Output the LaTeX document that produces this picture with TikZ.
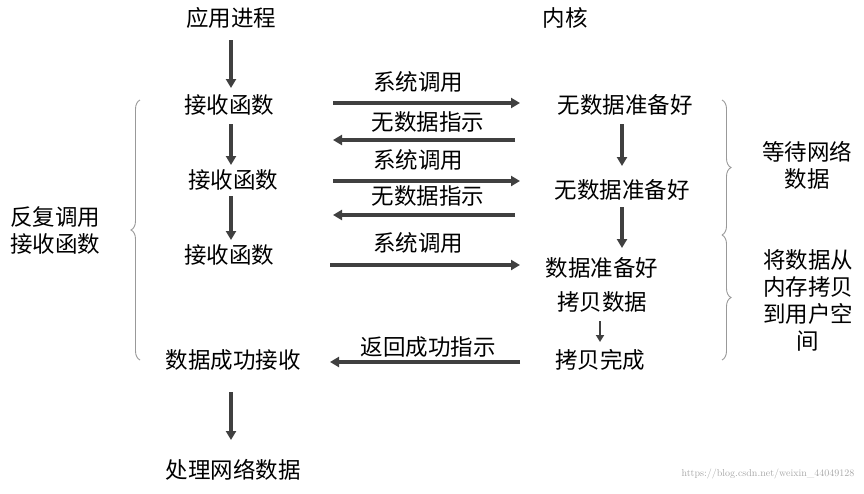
\documentclass[tikz,border=0pt]{standalone}
\usepackage{fontspec}
\newfontfamily\cjk{Noto Sans CJK SC}
\usetikzlibrary{arrows.meta,decorations.pathreplacing}
\begin{document}
\begin{tikzpicture}[x=1pt,y=-1pt,
  lbl/.style={font=\cjk\fontsize{22.5}{27}\selectfont,inner sep=0pt,align=center},
  arr/.style={draw=black!75,line width=3.2pt,-{Triangle[length=9pt,width=10pt]}},
  brc/.style={draw=black!40,line width=0.9pt,decorate,decoration={brace,amplitude=9pt}}]
\useasboundingbox (0,0) rectangle (864,493);
\node[lbl] (app) at (231,18) {应用进程};
\node[lbl] (kern) at (565,18) {内核};
\node[lbl] (r1) at (229,105) {接收函数};
\node[lbl] (r2) at (233,180) {接收函数};
\node[lbl] (r3) at (229,255) {接收函数};
\node[lbl] (ok) at (233,360) {数据成功接收};
\node[lbl] (proc) at (233,470) {处理网络数据};
\node[lbl] (k1) at (625,105) {无数据准备好};
\node[lbl] (k2) at (622,190) {无数据准备好};
\node[lbl] (k3) at (602,268) {数据准备好};
\node[lbl] (k4) at (602,302) {拷贝数据};
\node[lbl] (k5) at (600,360) {拷贝完成};
\node[lbl] (s1) at (418,82) {系统调用};
\node[lbl] (n1) at (428,122) {无数据指示};
\node[lbl] (s2) at (418,160) {系统调用};
\node[lbl] (n2) at (428,196) {无数据指示};
\node[lbl] (s3) at (418,243) {系统调用};
\node[lbl] (rt) at (428,347) {返回成功指示};
\node[lbl] (wait) at (807,165) {等待网络\\数据};
\node[lbl] (copy) at (808,300) {将数据从\\内存拷贝\\到用户空\\间};
\node[lbl] (rep) at (55,230) {反复调用\\接收函数};
\node[font=\fontsize{10}{12}\selectfont,text=black!35,anchor=east] (wm) at (858,474) {https://blog.csdn.net/weixin\_44049128};
\coordinate (a1) at (333,103); \coordinate (b1) at (520,103);
\coordinate (a2) at (515,140); \coordinate (b2) at (333,140);
\coordinate (a3) at (333,181); \coordinate (b3) at (520,181);
\coordinate (a4) at (515,215); \coordinate (b4) at (333,215);
\coordinate (a5) at (330,265); \coordinate (b5) at (520,265);
\coordinate (a6) at (520,362); \coordinate (b6) at (330,362);
\draw[arr] (231,40) -- (231,88);
\draw[arr] (231,124) -- (231,165);
\draw[arr] (231,196) -- (231,240);
\draw[arr] (231,392) -- (231,440);
\draw[arr] (a1) -- (b1);
\draw[arr] (a2) -- (b2);
\draw[arr] (a3) -- (b3);
\draw[arr] (a4) -- (b4);
\draw[arr] (a5) -- (b5);
\draw[arr] (a6) -- (b6);
\draw[arr] (622,124) -- (622,166);
\draw[arr] (622,207) -- (622,248);
\draw[arr,line width=2.4pt,-{Triangle[length=7pt,width=8pt]}] (600,321) -- (600,342);
\draw[brc] (140,360) -- (140,100);
\draw[brc] (722,100) -- (722,235);
\draw[brc] (722,235) -- (722,360);
\end{tikzpicture}
\end{document}
